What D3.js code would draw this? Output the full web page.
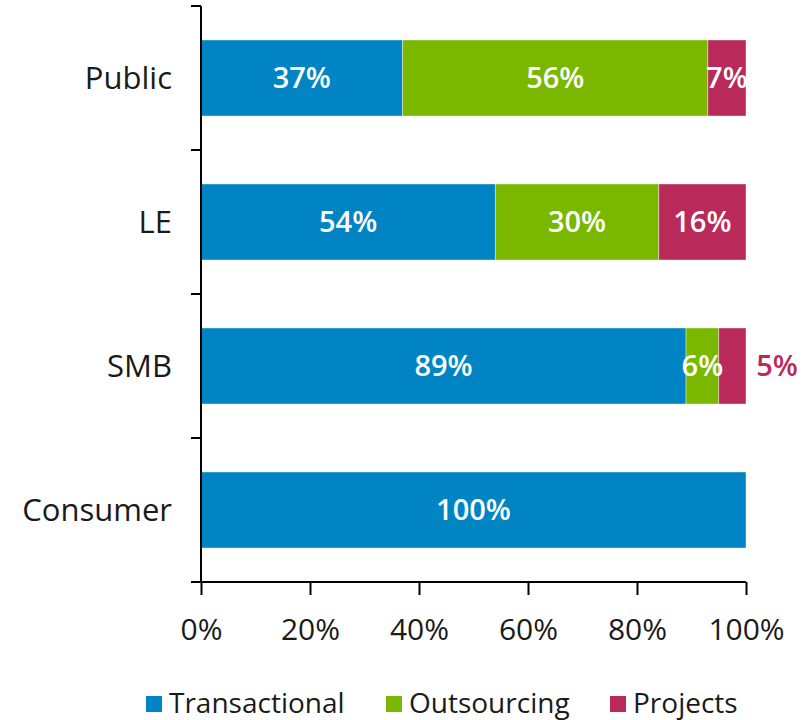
<!DOCTYPE html>
<html><head><meta charset="utf-8">
<script src="https://cdn.jsdelivr.net/npm/d3@7"></script>
<style>body{margin:0;background:#fff}svg{display:block}text{font-family:"Open Sans",Lato,sans-serif}</style>
</head><body>
<svg id="c" width="808" height="720"></svg>
<script>
const categories = ["Public","LE","SMB","Consumer"];
const seriesNames = ["Transactional","Outsourcing","Projects"];
const transactional = [37,54,89,100];
const outsourcing = [56,30,6,0];
const projects = [7,16,5,0];
const xTicks = [0,20,40,60,80,100];
const colors = ["#0084C3","#7AB800","#B92A5B"];

const svg = d3.select("#c");
const m = {left:201, top:6};
const x = d3.scaleLinear().domain([0,100]).range([m.left, 746]);
const y = d3.scaleBand().domain(categories).range([m.top, 582]).paddingInner(0.472).paddingOuter(0.236);

const rows = categories.map((c,i)=>({cat:c, Transactional:transactional[i], Outsourcing:outsourcing[i], Projects:projects[i]}));
const stack = d3.stack().keys(seriesNames)(rows);

const g = svg.append("g");
stack.forEach((s,si)=>{
  g.selectAll(null).data(s).enter().filter(d=>d[1]-d[0]>0).append("rect")
    .attr("x", d=>x(d[0])).attr("width", d=>x(d[1])-x(d[0]))
    .attr("y", d=>y(d.data.cat)).attr("height", y.bandwidth())
    .attr("fill", colors[si]).attr("stroke","#ffffff").attr("stroke-opacity",0.5).attr("stroke-width",0.8);
});
// labels
stack.forEach((s,si)=>{
  s.forEach(d=>{
    const v = d[1]-d[0];
    if (v<=0) return;
    const outside = (d.data.cat==="SMB" && si===2);
    const cx = outside ? x(100)+31 : (x(d[0])+x(d[1]))/2;
    svg.append("text").attr("x", cx).attr("y", y(d.data.cat)+y.bandwidth()/2)
      .attr("dy","0.36em").attr("text-anchor","middle")
      .attr("font-size",29).attr("font-weight",600)
      .attr("fill", outside ? colors[2] : "#fff").text(v+"%");
  });
});

// y axis
const yAxisG = svg.append("g");
yAxisG.append("line").attr("x1",m.left).attr("x2",m.left).attr("y1",6).attr("y2",582).attr("stroke","#000").attr("stroke-width",2);
const bounds = [0,1,2,3,4].map(i=>6+i*144);
bounds.forEach(b=>yAxisG.append("line").attr("x1",191).attr("x2",m.left).attr("y1",b).attr("y2",b).attr("stroke","#000").attr("stroke-width",2));
categories.forEach(c=>{
  yAxisG.append("text").attr("x",172).attr("y",y(c)+y.bandwidth()/2).attr("dy","0.36em")
   .attr("text-anchor","end").attr("font-size",31).attr("font-weight",400).attr("fill","#1a1a1a").text(c);
});

// x axis
const xAxis = d3.axisBottom(x).tickValues(xTicks).tickFormat(d=>d+"%").tickSize(13).tickPadding(24);
const xg = svg.append("g").attr("transform","translate(0,582)").call(xAxis);
xg.select(".domain").attr("stroke","#000").attr("stroke-width",2).attr("d",`M191,0H${x(100)}`);
xg.selectAll(".tick line").attr("stroke","#000").attr("stroke-width",2);
xg.selectAll(".tick text").attr("font-size",30).attr("font-weight",400).attr("fill","#1a1a1a").attr("font-family","'Open Sans',Lato,sans-serif");

// legend
const legX = [146,386,610];
seriesNames.forEach((n,i)=>{
  svg.append("rect").attr("x",legX[i]).attr("y",696).attr("width",16).attr("height",16).attr("fill",colors[i]);
  svg.append("text").attr("x",legX[i]+23).attr("y",703).attr("dy","0.36em").attr("font-size",28).attr("font-weight",400).attr("fill","#1a1a1a").text(n);
});
</script>
</body></html>
